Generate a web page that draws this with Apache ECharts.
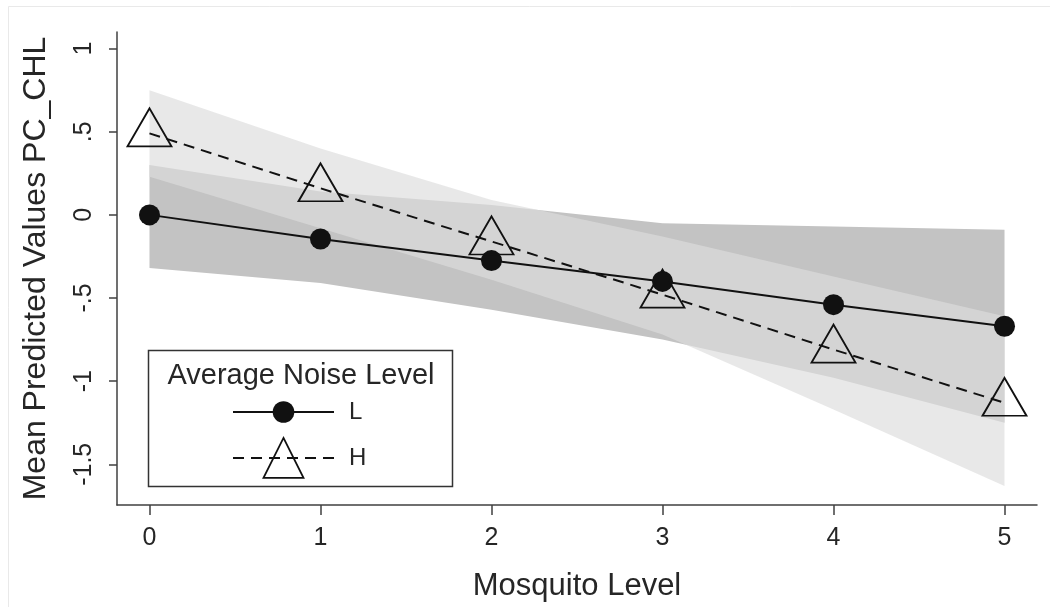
<!DOCTYPE html>
<html><head><meta charset="utf-8">
<script src="https://cdn.jsdelivr.net/npm/echarts@6/dist/echarts.min.js"></script>
<style>html,body{margin:0;padding:0;background:#fff}#c{width:1050px;height:607px}</style>
</head><body><div id="c"></div>
<script>
// ---- data ----
const mosquito = [0, 1, 2, 3, 4, 5];
const xTickValues = [0, 1, 2, 3, 4, 5];
const yTickValues = [-1.5, -1, -0.5, 0, 0.5, 1];
const yTickLabels = ['-1.5', '-1', '-.5', '0', '.5', '1'];
const lowMean  = [0, -0.145, -0.275, -0.40, -0.54, -0.67];
const lowUpper = [0.30, 0.14, 0.06, -0.05, -0.07, -0.09];
const lowLower = [-0.32, -0.41, -0.57, -0.75, -0.98, -1.25];
const highMean  = [0.49, 0.16, -0.16, -0.48, -0.81, -1.13];
const highUpper = [0.75, 0.40, 0.09, -0.13, -0.37, -0.61];
const highLower = [0.23, -0.08, -0.39, -0.72, -1.17, -1.63];
const legendTitle = 'Average Noise Level';
const xTitle = 'Mosquito Level';
const yTitle = 'Mean Predicted Values PC_CHL';

// ---- helpers ----
const pairs = ys => mosquito.map((x, i) => [x, ys[i]]);
const bandData = (lo, hi) => mosquito.map((x, i) => [x, lo[i], hi[i]]);
const FONT = 'Liberation Sans, Arial, Helvetica, sans-serif';
const TXT = '#262626';
const AX = '#404040';

function bandSeries(name, lo, hi, fill, opacity, z) {
  return {
    type: 'custom', name: name, silent: true, z: z,
    data: bandData(lo, hi),
    encode: {x: 0, y: [1, 2]},
    renderItem: function (params, api) {
      if (params.dataIndex !== 0) return null;
      const top = mosquito.map((x, i) => api.coord([x, hi[i]]));
      const bot = mosquito.map((x, i) => api.coord([x, lo[i]])).reverse();
      return {
        type: 'polygon',
        shape: {points: top.concat(bot)},
        style: {fill: fill, opacity: opacity}
      };
    }
  };
}

const chart = echarts.init(document.getElementById('c'), null, {renderer: 'canvas'});
chart.setOption({
  animation: false,
  backgroundColor: '#fff',
  grid: {left: 117, right: 13, top: 32, bottom: 96.5, containLabel: false},
  xAxis: {
    type: 'value', min: -0.19, max: 5.19,
    name: xTitle, nameLocation: 'middle', nameGap: 66,
    nameTextStyle: {fontSize: 31, color: TXT, fontFamily: FONT},
    axisLine: {show: true, onZero: false, lineStyle: {color: AX, width: 1.5}},
    axisTick: {show: true, length: 10, customValues: xTickValues, lineStyle: {color: AX, width: 1.5}},
    axisLabel: {customValues: xTickValues, fontSize: 25, color: TXT, fontFamily: FONT, margin: 21},
    splitLine: {show: false}
  },
  yAxis: {
    type: 'value', min: -1.745, max: 1.1,
    name: yTitle, nameLocation: 'middle', nameGap: 65,
    nameTextStyle: {fontSize: 32, color: TXT, fontFamily: FONT},
    axisLine: {show: true, onZero: false, lineStyle: {color: AX, width: 1.5}},
    axisTick: {show: true, length: 8, customValues: yTickValues, lineStyle: {color: AX, width: 1.5}},
    axisLabel: {
      customValues: yTickValues, rotate: 90, fontSize: 25, color: TXT, fontFamily: FONT, margin: 20,
      formatter: v => {
        const i = yTickValues.findIndex(t => Math.abs(t - v) < 1e-9);
        return i >= 0 ? yTickLabels[i] : '';
      }
    },
    splitLine: {show: false}
  },
  legend: [
    {
      data: ['L'], left: 232, top: 400, orient: 'vertical', padding: 0,
      itemWidth: 101, itemHeight: 27, selectedMode: false,
      textStyle: {fontSize: 24, color: TXT, fontFamily: FONT, padding: [0, 0, 0, 10]},
      lineStyle: {width: 2}
    },
    {
      data: ['H'], left: 232, top: 437, orient: 'vertical', padding: 0,
      itemWidth: 101, itemHeight: 50, selectedMode: false,
      textStyle: {fontSize: 24, color: TXT, fontFamily: FONT, padding: [0, 0, 0, 10]},
      lineStyle: {width: 2},
      itemStyle: {borderWidth: 1.8, borderColor: '#111', color: 'rgba(0,0,0,0)'}
    }
  ],
  graphic: [
    {type: 'rect', silent: true, z: 0, shape: {x: 8.5, y: 6.5, width: 1100, height: 700},
     style: {fill: 'none', stroke: '#e9e9e9', lineWidth: 1}},
    {type: 'rect', silent: true, z: 0, shape: {x: 148.5, y: 350.5, width: 304, height: 136},
     style: {fill: 'none', stroke: '#333', lineWidth: 1.5}},
    {type: 'text', silent: true, z: 10, x: 301, y: 376,
     style: {text: legendTitle, fontSize: 29, fontFamily: FONT, fill: TXT, align: 'center', verticalAlign: 'middle'}}
  ],
  series: [
    bandSeries('Lband', lowLower, lowUpper, 'rgb(195,195,195)', 1, 1),
    bandSeries('Hband', highLower, highUpper, 'rgb(220,220,220)', 0.667, 2),
    {type: 'line', name: 'L', data: pairs(lowMean), symbol: 'circle', symbolSize: 21, z: 5,
     itemStyle: {color: '#111'}, lineStyle: {color: '#111', width: 2}},
    {type: 'line', name: 'H', data: pairs(highMean), symbol: 'triangle', symbolSize: [44, 38], symbolOffset: [0, -6], z: 5,
     itemStyle: {color: 'rgba(0,0,0,0)', borderColor: '#111', borderWidth: 1.8},
     lineStyle: {color: '#111', width: 2, type: [11, 7]}}
  ]
});
</script></body></html>
